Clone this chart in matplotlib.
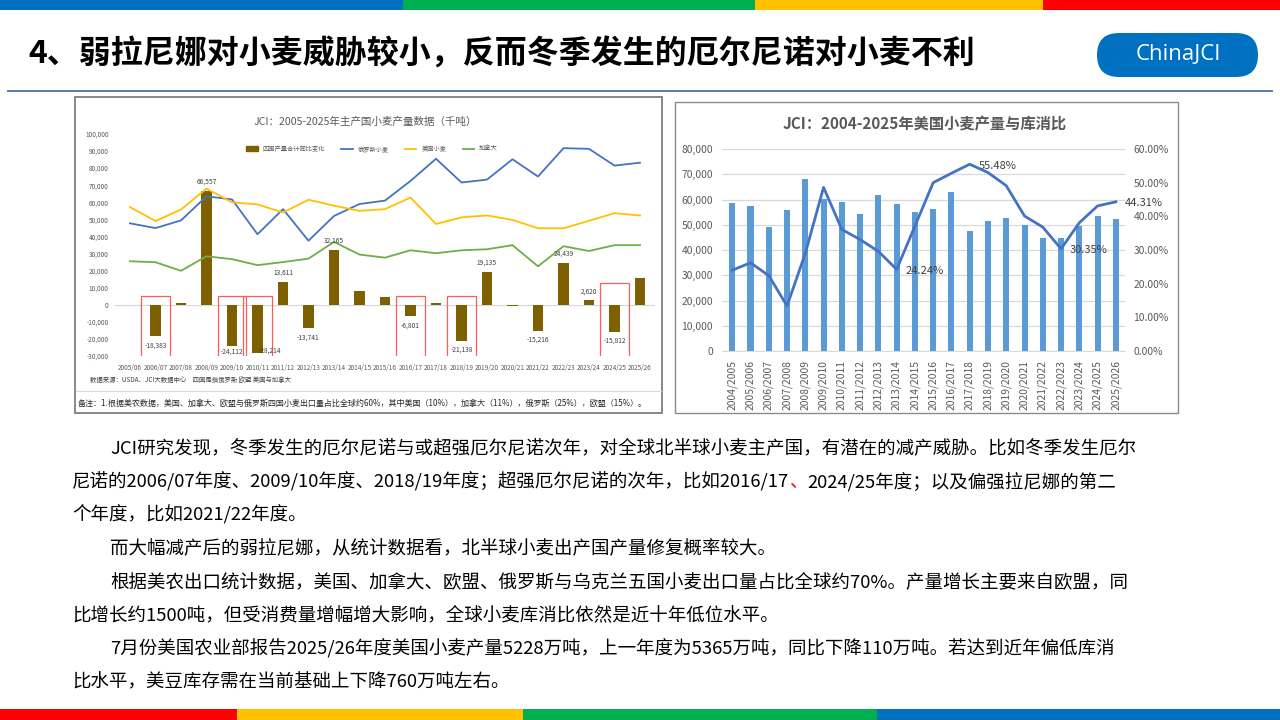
import numpy as np
import matplotlib.pyplot as plt
from matplotlib.patches import Rectangle, FancyBboxPatch, Patch
from matplotlib.lines import Line2D
from matplotlib.ticker import FuncFormatter

plt.rcParams['font.family'] = ['Noto Sans CJK SC', 'DejaVu Sans']

# ---- left chart data (thousand tonnes) ----
left_years = ['2005/06', '2006/07', '2007/08', '2008/09', '2009/10', '2010/11', '2011/12',
              '2012/13', '2013/14', '2014/15', '2015/16', '2016/17', '2017/18', '2018/19',
              '2019/20', '2020/21', '2021/22', '2022/23', '2023/24', '2024/25', '2025/26']
change_4 = [np.nan, -18383, 1000, 66557, -24112, -28214, 13611, -13741, 32165, 7900, 4400,
            -6801, 900, -21138, 19135, -900, -15216, 24439, 2620, -15812, 15800]
change_labels = [None, '-18,383', None, '66,557', '-24,112', '-28,214', '13,611', '-13,741',
                 '32,165', None, None, '-6,801', None, '-21,138', '19,135', None, '-15,216',
                 '24,439', '2,620', '-15,812', None]
russia = [47700, 44900, 49400, 63500, 61700, 41300, 56000, 37500, 52000, 59000, 61000,
          72500, 85500, 71600, 73300, 85200, 75100, 91700, 91300, 81500, 83200]
us_wheat = [57200, 49000, 55800, 68000, 60000, 58800, 54000, 61500, 58000, 55000, 56000,
            62800, 47300, 51200, 52300, 49700, 44800, 44800, 49200, 53650, 52280]
canada = [25500, 24900, 19900, 28400, 26700, 23200, 25000, 27000, 36800, 29400, 27600,
          31900, 30200, 31900, 32500, 34900, 22500, 34300, 31500, 34900, 34900]
highlight_years = ['2006/07', '2009/10', '2010/11', '2016/17', '2018/19', '2024/25']

# ---- right chart data ----
right_years = ['2004/2005', '2005/2006', '2006/2007', '2007/2008', '2008/2009', '2009/2010',
               '2010/2011', '2011/2012', '2012/2013', '2013/2014', '2014/2015', '2015/2016',
               '2016/2017', '2017/2018', '2018/2019', '2019/2020', '2020/2021', '2021/2022',
               '2022/2023', '2023/2024', '2024/2025', '2025/2026']
us_prod = [58698, 57243, 49217, 55821, 68016, 60366, 58868, 54413, 61677, 58105, 55147,
           56117, 62832, 47380, 51306, 52581, 49751, 44790, 44902, 49312, 53650, 52280]
stock_use = [24.0, 26.2, 22.4, 13.4, 29.0, 48.6, 36.1, 33.1, 29.6, 24.24, 37.1, 50.0,
             52.8, 55.48, 53.0, 49.1, 40.1, 36.8, 30.35, 38.1, 43.1, 44.31]
stock_use_labels = {'2013/2014': '24.24%', '2017/2018': '55.48%',
                    '2022/2023': '30.35%', '2025/2026': '44.31%'}

title = '4、弱拉尼娜对小麦威胁较小，反而冬季发生的厄尔尼诺对小麦不利'
para_lines = [
    'JCI研究发现，冬季发生的厄尔尼诺与或超强厄尔尼诺次年，对全球北半球小麦主产国，有潜在的减产威胁。比如冬季发生厄尔',
    '尼诺的2006/07年度、2009/10年度、2018/19年度；超强厄尔尼诺的次年，比如2016/17|、|2024/25年度；以及偏强拉尼娜的第二',
    '个年度，比如2021/22年度。',
    '而大幅减产后的弱拉尼娜，从统计数据看，北半球小麦出产国产量修复概率较大。',
    '根据美农出口统计数据，美国、加拿大、欧盟、俄罗斯与乌克兰五国小麦出口量占比全球约70%。产量增长主要来自欧盟，同',
    '比增长约1500吨，但受消费量增幅增大影响，全球小麦库消比依然是近十年低位水平。',
    '7月份美国农业部报告2025/26年度美国小麦产量5228万吨，上一年度为5365万吨，同比下降110万吨。若达到近年偏低库消',
    '比水平，美豆库存需在当前基础上下降760万吨左右。',
]
para_indent = [True, False, False, True, True, False, True, False]

W, H = 1280, 720


def box(x0, y0, x1, y1):
    return [x0 / W, 1 - y1 / H, (x1 - x0) / W, (y1 - y0) / H]


fig = plt.figure(figsize=(12.8, 7.2), dpi=100)
fig.patch.set_facecolor('white')
bg = fig.add_axes([0, 0, 1, 1])
bg.set_xlim(0, W)
bg.set_ylim(H, 0)
bg.axis('off')

# colour stripes
for c, x0, x1 in [('#0070c0', 0, 403), ('#00b050', 403, 755), ('#ffc000', 755, 1043), ('#ff0000', 1043, 1280)]:
    bg.add_patch(Rectangle((x0, 0), x1 - x0, 10, color=c, lw=0))
for c, x0, x1 in [('#ff0000', 0, 237), ('#ffc000', 237, 523), ('#00b050', 523, 877), ('#0070c0', 877, 1280)]:
    bg.add_patch(Rectangle((x0, 709), x1 - x0, 11, color=c, lw=0))

bg.text(28, 55, title, fontsize=23, fontweight='bold', va='center', ha='left', color='black')
bg.add_patch(FancyBboxPatch((1097, 33), 161, 44, boxstyle='round,pad=0,rounding_size=22',
                            fc='#0070c0', ec='none'))
bg.text(1178, 55, 'ChinaJCI', fontsize=16, color='white', ha='center', va='center',
        family=['Open Sans', 'DejaVu Sans'])
bg.plot([8, 1272], [91, 91], color='#4f6fa0', lw=1.3)

# chart frames
bg.add_patch(Rectangle((75, 97), 587, 316, fill=False, ec='#7f7f7f', lw=1.3))
bg.add_patch(Rectangle((675, 102), 503, 311, fill=False, ec='#8c8c8c', lw=1.0))
bg.plot([76, 661], [391, 391], color='#d9d9d9', lw=0.8)
bg.text(365, 122, 'JCI：2005-2025年主产国小麦产量数据（千吨）', fontsize=7.6, color='#595959',
        ha='center', va='center')
bg.text(90, 380, '数据来源：USDA、JCI大数据中心　四国是指俄罗斯 欧盟 美国与加拿大', fontsize=4.6,
        color='#404040', ha='left', va='center')
bg.text(78, 403, '备注：1.根据美农数据，美国、加拿大、欧盟与俄罗斯四国小麦出口量占比全球约60%，'
        '其中美国（10%），加拿大（11%），俄罗斯（25%），欧盟（15%）。', fontsize=5.8,
        color='#262626', ha='left', va='center')
bg.text(925, 124, 'JCI：2004-2025年美国小麦产量与库消比', fontsize=11, fontweight='bold',
        color='#595959', ha='center', va='center')

# ---- left chart ----
ax1 = fig.add_axes(box(114.7, 134, 655.3, 356))
ax1.patch.set_alpha(0)
x1 = np.arange(len(left_years))
ax1.axhline(0, color='#d9d9d9', lw=0.8, zorder=1)
ax1.bar(x1, change_4, width=0.4, color='#7f6000', zorder=3)
ax1.plot(x1, russia, color='#4472c4', lw=1.3, zorder=4)
ax1.plot(x1, us_wheat, color='#ffc000', lw=1.3, zorder=4)
ax1.plot(x1, canada, color='#70ad47', lw=1.3, zorder=4)
label_offsets = {'2009/10': (0, -3.8), '2010/11': (9, 2)}
for i, (v, lab) in enumerate(zip(change_4, change_labels)):
    if lab is None:
        continue
    off = label_offsets.get(left_years[i], (0, 6.5 if v > 0 else -6.5))
    ax1.annotate(lab, (i, v), xytext=off, textcoords='offset points', ha='center',
                 va='center', fontsize=4.8, color='#404040', zorder=7)
for yr in highlight_years:
    i = left_years.index(yr)
    top = 13000 if yr == '2024/25' else 5000
    ax1.add_patch(Rectangle((i - 0.56, -30400), 1.12, top + 30400, fill=False,
                            ec='#ff5b5b', lw=0.9, zorder=6))
ax1.set_xlim(-0.6, len(left_years) - 0.4)
ax1.set_ylim(-30000, 100000)
ax1.set_yticks(range(-30000, 100001, 10000))
ax1.yaxis.set_major_formatter(FuncFormatter(lambda v, p: f'{int(v):,}'))
ax1.set_xticks(x1)
ax1.set_xticklabels(left_years)
ax1.tick_params(axis='both', length=0, labelsize=4.6, colors='#595959')
ax1.tick_params(axis='y', pad=4.5)
ax1.tick_params(axis='x', pad=5.5)
for s in ax1.spines.values():
    s.set_visible(False)

handles = [Patch(color='#7f6000'), Line2D([], [], color='#4472c4', lw=1.3),
           Line2D([], [], color='#ffc000', lw=1.3), Line2D([], [], color='#70ad47', lw=1.3)]
fig.legend(handles, ['四国产量合计同比变化', '俄罗斯小麦', '美国小麦', '加拿大'], loc='center',
           bbox_to_anchor=(372 / W, 1 - 149 / H), ncol=4, frameon=False, fontsize=4.5,
           handlelength=1.8, handleheight=0.8, columnspacing=2.6, labelcolor='#595959')

# ---- right chart ----
ax2 = fig.add_axes(box(722, 149, 1125, 351))
ax2.patch.set_alpha(0)
x2 = np.arange(len(right_years))
ax2.bar(x2, us_prod, width=0.33, color='#5b9bd5', zorder=3)
ax2.set_xlim(-0.56, len(right_years) - 0.5)
ax2.set_ylim(0, 80000)
ax2.set_yticks(range(0, 80001, 10000))
ax2.yaxis.set_major_formatter(FuncFormatter(lambda v, p: f'{int(v):,}'))
ax2.grid(axis='y', color='#d9d9d9', lw=0.9, zorder=0)
ax2.set_axisbelow(True)
ax2.set_xticks(x2)
ax2.set_xticklabels(right_years, rotation=90)
ax2.tick_params(axis='both', length=0, labelsize=7.4, colors='#595959')
ax2.tick_params(axis='y', pad=6.5)
ax2.tick_params(axis='x', pad=6.5)
for s in ax2.spines.values():
    s.set_visible(False)
ax2.spines['bottom'].set_visible(True)
ax2.spines['bottom'].set_color('#d9d9d9')

ax2r = ax2.twinx()
ax2r.plot(x2, np.array(stock_use) / 100, color='#4472c4', lw=2.0, zorder=5)
ax2r.set_ylim(0, 0.6)
ax2r.set_yticks(np.arange(0, 0.61, 0.1))
ax2r.yaxis.set_major_formatter(FuncFormatter(lambda v, p: f'{v * 100:.2f}%'))
ax2r.tick_params(axis='y', length=0, labelsize=7.4, colors='#595959', pad=6)
for s in ax2r.spines.values():
    s.set_visible(False)
for yr, lab in stock_use_labels.items():
    i = right_years.index(yr)
    ax2r.annotate(lab, (i, stock_use[i] / 100), xytext=(6.5, -1), textcoords='offset points',
                  ha='left', va='center', fontsize=8, color='#404040')

# ---- paragraphs ----
renderer = fig.canvas.get_renderer()
for k, (line, ind) in enumerate(zip(para_lines, para_indent)):
    y = 448.3 + k * 33.4
    xpos = 110 if ind else 72
    parts = line.split('|')
    for j, part in enumerate(parts):
        color = '#ff0000' if (len(parts) == 3 and j == 1) else '#000000'
        t = bg.text(xpos, y, part, fontsize=13.3, color=color, ha='left', va='center')
        bb = t.get_window_extent(renderer)
        xpos = bb.x1

fig.savefig('out.png', dpi=100)
